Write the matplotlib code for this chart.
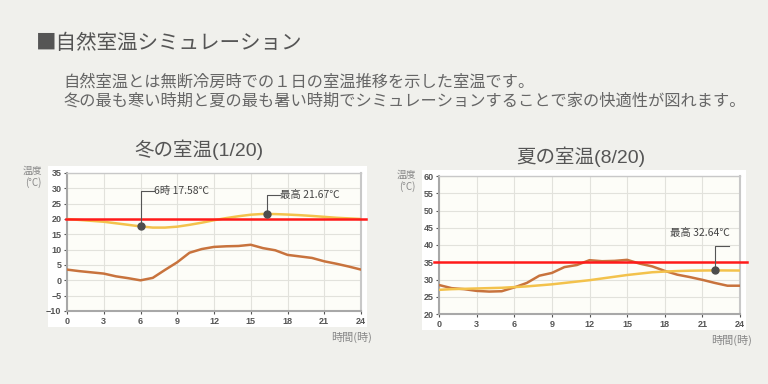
import matplotlib.pyplot as plt
from matplotlib.patches import Rectangle

plt.rcParams['font.family'] = ['Noto Sans CJK JP', 'DejaVu Sans']
LATIN = ['Liberation Sans', 'Noto Sans CJK JP']

# data
hours = list(range(25))
winter_outdoor = [3.5, 3.0, 2.6, 2.2, 1.3, 0.7, 0.0, 0.8, 3.4, 5.9, 9.0, 10.2, 10.9,
                  11.1, 11.2, 11.6, 10.5, 9.8, 8.3, 7.8, 7.3, 6.2, 5.4, 4.5, 3.5]
winter_room = [20.0, 19.7, 19.4, 19.1, 18.6, 18.1, 17.58, 17.2, 17.2, 17.5, 18.1, 18.8, 19.6,
               20.3, 20.9, 21.4, 21.65, 21.6, 21.45, 21.25, 21.0, 20.7, 20.4, 20.2, 20.0]
summer_outdoor = [28.4, 27.5, 27.2, 26.7, 26.5, 26.6, 27.7, 29.0, 31.1, 31.9, 33.6, 34.2, 35.6,
                  35.3, 35.4, 35.7, 34.6, 33.8, 32.5, 31.4, 30.7, 29.9, 29.0, 28.2, 28.2]
summer_room = [27.0, 27.2, 27.3, 27.4, 27.5, 27.6, 27.8, 28.0, 28.3, 28.6, 29.0, 29.4, 29.8,
               30.3, 30.8, 31.3, 31.7, 32.1, 32.3, 32.45, 32.55, 32.6, 32.64, 32.62, 32.6]
winter_ref = 20
summer_ref = 35

BROWN = '#c8733d'
YELLOW = '#f3c24c'
GRAY = '#555555'

fig = plt.figure(figsize=(7.68, 3.84), dpi=100)
fig.patch.set_facecolor('#f0f0ec')

# white panels behind the charts
fig.add_artist(Rectangle((48 / 768, 1 - 327 / 384), 319 / 768, 161 / 384,
                         transform=fig.transFigure, facecolor='white', edgecolor='none', zorder=0))
fig.add_artist(Rectangle((422 / 768, 1 - 330 / 384), 324 / 768, 160 / 384,
                         transform=fig.transFigure, facecolor='white', edgecolor='none', zorder=0))

fig.text(36 / 768, 1 - 43 / 384, '■自然室温シミュレーション', fontsize=14.8, color=GRAY, va='center')
fig.text(63 / 768, 1 - 82 / 384, '自然室温とは無断冷房時での１日の室温推移を示した室温です。',
         fontsize=11.7, color='#666666', va='center')
fig.text(63 / 768, 1 - 101 / 384,
         '冬の最も寒い時期と夏の最も暑い時期でシミュレーションすることで家の快適性が図れます。',
         fontsize=11.7, color='#666666', va='center')


def setup(ax, ymin, ymax):
    ax.set_facecolor('#fdfdf8')
    ax.set_xlim(0, 24)
    ax.set_ylim(ymin, ymax)
    ax.set_xticks(range(0, 25, 3))
    ax.set_yticks(range(ymin, ymax + 1, 5))
    ax.grid(True, color='#e2e2dc', linewidth=0.8)
    ax.set_axisbelow(True)
    ax.tick_params(length=2, labelsize=6.5, colors='#555555', pad=2)
    for lbl in ax.get_xticklabels() + ax.get_yticklabels():
        lbl.set_fontweight('bold')
        lbl.set_family(LATIN)
    for s in ax.spines.values():
        s.set_color('#c8c8c8')
        s.set_linewidth(1)
    ax.spines['left'].set_color('#a8a8a8')
    ax.spines['bottom'].set_color('#a8a8a8')
    ax.spines['left'].set_linewidth(1.5)
    ax.spines['bottom'].set_linewidth(1.5)
    ax.spines['right'].set_linewidth(1.5)


def annotate(ax, x, y, ytop, label, tx, dx):
    ax.plot([x], [y], 'o', color='#4d4d4d', markersize=5, zorder=6)
    ax.plot([x, x, x + dx], [y, ytop, ytop], color='#555555', linewidth=0.8, zorder=5)
    ax.text(tx, ytop, label, fontsize=7.5, color='#444444', va='center', zorder=6)


# winter
ax1 = fig.add_axes([67 / 768, 1 - 311 / 384, 294 / 768, 138 / 384])
setup(ax1, -10, 35)
ax1.plot(hours, winter_outdoor, color=BROWN, linewidth=1.8, zorder=3)
ax1.plot(hours, winter_room, color=YELLOW, linewidth=1.8, zorder=3)
ax1.axhline(winter_ref, xmin=-0.003, xmax=1.017, color='#ff1a1a', linewidth=1.8,
            clip_on=False, zorder=4)
annotate(ax1, 6, 17.58, 29.1, '6時 17.58℃', 7.1, 1.1)
annotate(ax1, 16.3, 21.67, 27.9, '最高 21.67℃', 17.4, 1.1)
fig.text(199 / 768, 1 - 150 / 384, '冬の室温(1/20)', fontsize=14, color=GRAY,
         ha='center', va='center', family=LATIN)
fig.text(42 / 768, 1 - 177 / 384, '温度\n(°C)', fontsize=7, color='#888888',
         ha='right', va='center', linespacing=1.1)
fig.text(372 / 768, 1 - 337 / 384, '時間(時)', fontsize=8, color='#888888', ha='right', va='center')

# summer
ax2 = fig.add_axes([439 / 768, 1 - 314 / 384, 301 / 768, 138 / 384])
setup(ax2, 20, 60)
ax2.plot(hours, summer_outdoor, color=BROWN, linewidth=1.8, zorder=3)
ax2.plot(hours, summer_room, color=YELLOW, linewidth=1.8, zorder=3)
ax2.axhline(summer_ref, xmin=-0.017, xmax=1.023, color='#ff1a1a', linewidth=1.8,
            clip_on=False, zorder=4)
ax2.plot([22], [32.64], 'o', color='#4d4d4d', markersize=5, zorder=6)
ax2.plot([22, 22, 23.1], [32.64, 39.7, 39.7], color='#555555', linewidth=0.8, zorder=5)
ax2.text(23.2, 43.5, '最高 32.64℃', fontsize=7.5, color='#444444', va='center', ha='right', zorder=6)
fig.text(581 / 768, 1 - 157 / 384, '夏の室温(8/20)', fontsize=14, color=GRAY,
         ha='center', va='center', family=LATIN)
fig.text(416 / 768, 1 - 181 / 384, '温度\n(°C)', fontsize=7, color='#888888',
         ha='right', va='center', linespacing=1.1)
fig.text(752 / 768, 1 - 340 / 384, '時間(時)', fontsize=8, color='#888888', ha='right', va='center')

fig.savefig('out.png', dpi=100, facecolor=fig.get_facecolor())
